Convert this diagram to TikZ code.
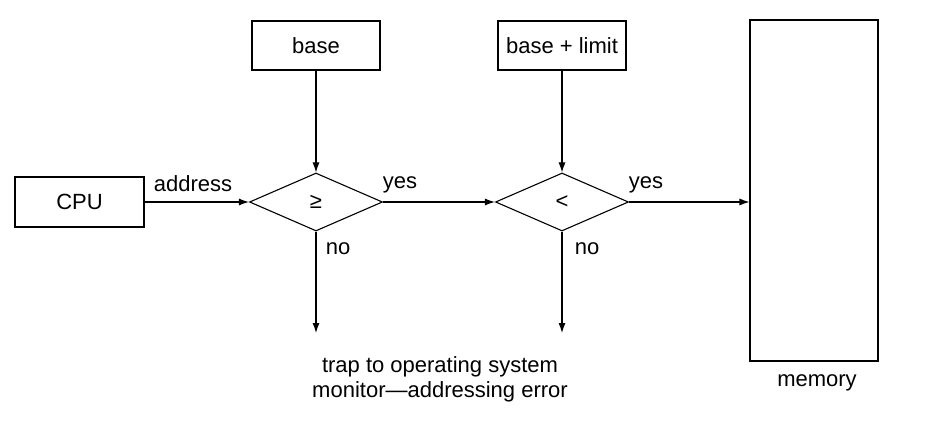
\documentclass[tikz,border=0pt]{standalone}
\usepackage{fontspec}
\setmainfont{Liberation Sans}
\usepackage{tikz}
\usetikzlibrary{arrows.meta,positioning,calc,shapes.geometric}
\tikzset{
  box/.style={draw,line width=0.55pt,align=center,inner sep=2pt},
  test/.style={draw,diamond,line width=0.55pt,inner sep=0pt,aspect=2.3,
               minimum width=66.5pt,minimum height=29pt},
  ar/.style={-{Latex[length=5pt,width=3.5pt]},line width=0.55pt},
  lbl/.style={inner sep=1pt}
}

\begin{document}
\begin{tikzpicture}[x=0.5pt,y=-0.5pt,font=\fontsize{11}{12.5}\selectfont]
  \useasboundingbox (0,0) rectangle (925,422);
  \node[box,minimum width=64.5pt,minimum height=25pt] (cpu) at (79.5,202) {CPU};
  \node[box,minimum width=64pt,minimum height=24.5pt] (base) at (316,45.5) {base};
  \node[box,minimum width=64pt,minimum height=24.5pt] (lim) at (562,45.5) {base + limit};
  \node[box,minimum width=64pt,minimum height=170.5pt] (mem) at (814,190.5) {};
  \node[test] (geq) at (316,202) {≥};
  \node[test] (lt) at (562,202) {<};
  \coordinate (trapa) at (316,333);
  \coordinate (trapb) at (562,333);
  \draw[ar] (cpu) -- (geq);
  \draw[ar] (base) -- (geq);
  \draw[ar] (geq) -- (lt);
  \draw[ar] (lim) -- (lt);
  \draw[ar] (lt.east) -- (lt.east -| mem.west);
  \draw[ar] (geq.south) -- (trapa);
  \draw[ar] (lt.south) -- (trapb);
  \node[lbl] (addr) at (193,184) {address};
  \node[lbl] (yesa) at (400,185) {yes};
  \node[lbl] (yesb) at (646,185) {yes};
  \node[lbl] (noa) at (338,249) {no};
  \node[lbl] (nob) at (587,249) {no};
  \node[lbl,align=center] (trap) at (440,379) {trap to operating system\\monitor---addressing error};
  \node[lbl] (memlbl) at (817,383) {memory};
\end{tikzpicture}
\end{document}
